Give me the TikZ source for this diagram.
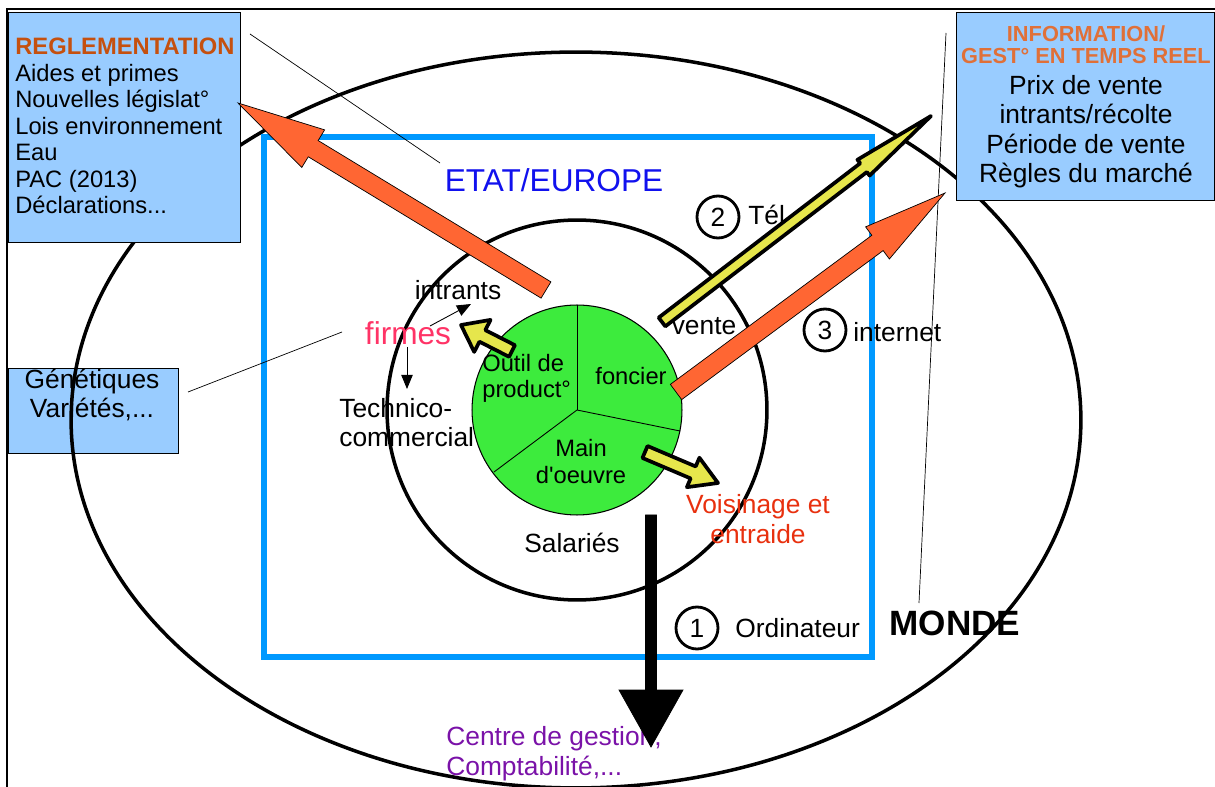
\documentclass[tikz,border=0pt]{standalone}
\usepackage{fontspec}
\setmainfont{Liberation Sans}
\usetikzlibrary{calc,arrows.meta}

\definecolor{panel}{HTML}{99CCFF}
\definecolor{etatblue}{HTML}{0099FF}
\definecolor{etatink}{HTML}{1111EE}
\definecolor{pie}{HTML}{3DEB3D}
\definecolor{hot}{HTML}{FF6633}
\definecolor{pale}{HTML}{E6E64C}
\definecolor{rust}{HTML}{C5500F}
\definecolor{tang}{HTML}{E07038}
\definecolor{rose}{HTML}{FF3366}
\definecolor{brick}{HTML}{E8300E}
\definecolor{plum}{HTML}{7A12A8}

% block arrow: style, tail, tip, half shaft, head length, half head
\newcommand\blockarrow[6]{%
  \coordinate (hb) at ($(#3)!#5!(#2)$);
  \draw[#1] ($(#2)!#4!90:(#3)$) -- ($(hb)!#4!90:(#3)$) -- ($(hb)!#6!90:(#3)$)
    -- (#3) -- ($(hb)!#6!-90:(#3)$) -- ($(hb)!#4!-90:(#3)$)
    -- ($(#2)!#4!-90:(#3)$) -- cycle;}

\begin{document}
\begin{tikzpicture}[x=0.02cm,y=-0.02cm,
    txt/.style={inner sep=0pt,font=\fontsize{15}{17}\selectfont},
    small/.style={inner sep=0pt,font=\fontsize{13.5}{15.1}\selectfont},
    panelbox/.style={draw,line width=0.6pt,fill=panel,inner sep=0pt},
    ring/.style={line width=2pt},
    numring/.style={draw,circle,line width=1.6pt,minimum size=0.84cm,inner sep=0pt,
        font=\fontsize{15}{17}\selectfont},
    leader/.style={line width=0.4pt},
    hotarrow/.style={fill=hot,draw=black,line width=0.4pt},
    palearrow/.style={fill=pale,draw=black,line width=2.1pt,line join=round},
    pointer/.style={line width=0.5pt,-{Triangle[length=8pt,width=6.5pt]}}]

    \useasboundingbox (0,0) rectangle (1215,787);
    \draw[line width=1.1pt] (7,787) -- (7,9) -- (1215,9);

    \node[panelbox,anchor=north west,minimum width=3.4cm,minimum height=1.7cm]
        (genbox) at (8,368) {};
    \node[txt,align=center,anchor=base] (gen) at (92,418) {Génétiques\\Variétés,...};

    \draw[ring] (576,420) ellipse [x radius=10.1cm,y radius=7.36cm];
    \draw[line width=3.2pt,etatblue] (264,137) rectangle (872,657);
    \draw[ring] (577,410) circle [radius=3.8cm];

    \coordinate (core) at (577,410);
    \draw[line width=0.6pt,fill=pie] (core) circle [radius=2.1cm];
    \foreach \x/\y in {577/305,680/431,494/472}{
        \draw[line width=0.5pt] (core) -- (\x,\y);
    }

    \node[panelbox,anchor=north west,minimum width=4.64cm,minimum height=4.6cm]
        (reglbox) at (8,12) {};
    \node[inner sep=0pt,font=\fontsize{13.5}{15.1}\selectfont,align=left,anchor=base west]
        (regl) at (15,214)
        {\textcolor{rust}{\bfseries REGLEMENTATION}\\Aides et primes\\Nouvelles législat°\\
         Lois environnement\\Eau\\PAC (2013)\\Déclarations...};

    \node[panelbox,anchor=north west,minimum width=5.16cm,minimum height=3.76cm]
        (infobox) at (956,12) {};
    \node[inner sep=0pt,align=center,anchor=base,text=tang,
        font=\fontsize{12.4}{13}\selectfont\bfseries] (infotitle) at (1086,64)
        {INFORMATION/\\GEST° EN TEMPS REEL};
    \node[inner sep=0pt,align=center,anchor=base,font=\fontsize{15}{16.8}\selectfont]
        (info) at (1086,183) {Prix de vente\\intrants/récolte\\Période de vente\\Règles du marché};

    % labels
    \node[inner sep=0pt,anchor=base,text=etatink,font=\fontsize{18}{20}\selectfont]
        (etat) at (554,192) {ETAT/EUROPE};
    \node[txt,anchor=base] (intrants) at (458,300) {intrants};
    \node[inner sep=0pt,anchor=base,text=rose,font=\fontsize{18}{20}\selectfont]
        (firmes) at (408,345) {firmes};
    \node[txt,align=left,anchor=base west] (techno) at (339,447) {Technico-\\commercial};
    \node[small,align=left,anchor=base west] (outil) at (482,398) {Outil de\\product°};
    \node[small,anchor=base] (foncier) at (631,385) {foncier};
    \node[small,align=center,anchor=base] (main) at (581,483)
        {Main\\d\textquotesingle oeuvre};
    \node[txt,anchor=base] (vente) at (704,335) {vente};
    \node[txt,align=center,anchor=base,text=brick] (voisin) at (758,543) {Voisinage et\\entraide};
    \node[txt,anchor=base] (salaries) at (572,553) {Salariés};
    \node[inner sep=0pt,anchor=base,font=\fontsize{20}{22}\selectfont\bfseries]
        (monde) at (955,635) {MONDE};
    \node[txt,align=left,anchor=base west,text=plum] (centre) at (446,775)
        {Centre de gestion,\\Comptabilité,...};

    \node[numring] (n2) at (718,217) {2};
    \node[txt,anchor=base west] (tel) at (748,225) {Tél};
    \node[numring] (n3) at (825,330) {3};
    \node[txt,anchor=base west] (internet) at (853,342) {internet};
    \node[numring] (n1) at (697,628) {1};
    \node[txt,anchor=base west] (ordi) at (735,637) {Ordinateur};

    % leaders
    \coordinate (regl-lead) at (250,34);
    \coordinate (etat-lead) at (440,163);
    \coordinate (gen-lead) at (188,392);
    \coordinate (firmes-lead) at (342,332);
    \coordinate (info-lead) at (946,33);
    \coordinate (monde-lead) at (919,603);
    \draw[leader] (regl-lead) -- (etat-lead);
    \draw[leader] (gen-lead) -- (firmes-lead);
    \draw[leader] (info-lead) -- (monde-lead);

    \coordinate (firmes-up) at (430,326);
    \coordinate (intrants-in) at (471,304);
    \coordinate (firmes-down) at (407,347);
    \coordinate (techno-in) at (407,389);
    \draw[pointer] (firmes-up) -- (intrants-in);
    \draw[pointer] (firmes-down) -- (techno-in);

    % block arrows
    \coordinate (core-nw) at (546,290);
    \coordinate (regl-in) at (238,103);
    \blockarrow{hotarrow}{core-nw}{regl-in}{0.19cm}{1.76cm}{0.44cm}
    \coordinate (foncier-out) at (676,392);
    \coordinate (info-in) at (945,193);
    \blockarrow{hotarrow}{foncier-out}{info-in}{0.19cm}{1.68cm}{0.4cm}
    \coordinate (vente-out) at (662,322);
    \coordinate (tel-in) at (931,116);
    \blockarrow{palearrow}{vente-out}{tel-in}{0.11cm}{1.7cm}{0.2cm}
    \coordinate (outil-out) at (512,351);
    \coordinate (intrants-up) at (461,325);
    \blockarrow{palearrow}{outil-out}{intrants-up}{0.13cm}{0.48cm}{0.36cm}
    \coordinate (main-out) at (645,452);
    \coordinate (voisin-in) at (718,483);
    \blockarrow{palearrow}{main-out}{voisin-in}{0.13cm}{0.54cm}{0.32cm}
    \coordinate (core-s) at (651,515);
    \coordinate (centre-in) at (651,747);
    \blockarrow{fill=black}{core-s}{centre-in}{0.11cm}{1.14cm}{0.64cm}
\end{tikzpicture}
\end{document}
